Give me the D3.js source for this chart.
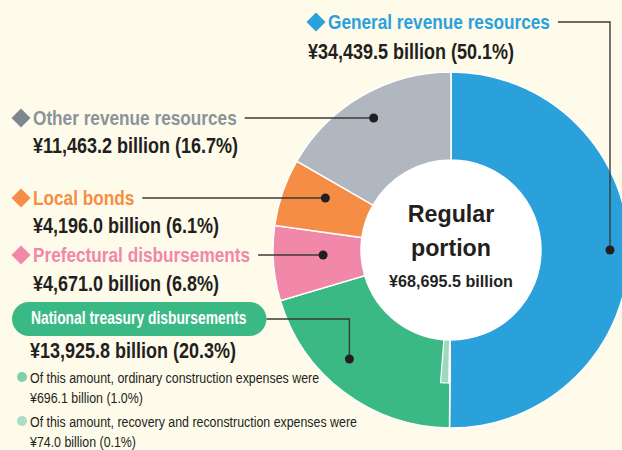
<!DOCTYPE html>
<html>
<head>
  <meta charset="utf-8">
  <script src="https://d3js.org/d3.v7.min.js"></script>
  <style>
    body { margin: 0; background: #fefbeb; }
    svg text { font-family: "Liberation Sans", Arial, sans-serif; }
  </style>
</head>
<body>
<script>
  // slice data, clockwise from 12 o'clock
  var categories = ["General revenue resources", "National treasury disbursements", "Prefectural disbursements", "Local bonds", "Other revenue resources"];
  var values = [34439.5, 13925.8, 4671.0, 4196.0, 11463.2];
  var shares = [50.1, 20.3, 6.8, 6.1, 16.7];
  var colors = ["#2ba1dc", "#3bb985", "#f187a9", "#f68d45", "#b1b7be"];
  var labelColors = ["#2ba1dc", "#ffffff", "#f187a9", "#f68d45", "#8b939b"];

  // breakdown inside the national treasury slice
  var subLabels = ["ordinary construction expenses", "recovery and reconstruction expenses"];
  var subValues = [696.1, 74.0];
  var subShares = [1.0, 0.1];
  var subColors = ["#9fd8bc", "#bde5d1"];
  var bulletColors = ["#80cfaa", "#a9ddc5"];

  var total = "68,695.5";

  var width = 622, height = 450;
  var cx = 451, cy = 250, rOuter = 178, rInner = 90, rSub = 133;

  var fmt = d3.format(",.1f");

  var svg = d3.select("body").append("svg")
      .attr("width", width)
      .attr("height", height);

  // condensed text helper (horizontal squeeze), returns rendered width
  function addText(parent, x, y, size, bold, fill, str, sq, anchor) {
    var t = parent.append("text")
      .attr("transform", "translate(" + x + "," + y + ") scale(" + sq + ",1)")
      .attr("text-anchor", anchor || "start")
      .style("font-size", size + "px")
      .style("font-weight", bold ? "bold" : "normal")
      .style("fill", fill)
      .text(str);
    return t.node().getComputedTextLength() * sq;
  }

  var pie = d3.pie().sort(null).value(function(d){ return d; });
  var arcs = pie(values);
  var arc = d3.arc().innerRadius(rInner).outerRadius(rOuter);

  var g = svg.append("g").attr("transform", "translate(" + cx + "," + cy + ")");

  g.selectAll("path.slice")
    .data(arcs)
    .enter().append("path")
    .attr("class", "slice")
    .attr("d", arc)
    .style("fill", function(d, i){ return colors[i]; })
    .style("stroke", "#fff")
    .style("stroke-width", 1.5);

  // sub-slices sit at the start of the green slice, next to the blue one
  var angle = d3.scaleLinear().domain([0, d3.sum(values)]).range([0, 2 * Math.PI]);
  var a0 = arcs[1].startAngle;
  var rec = { startAngle: a0, endAngle: a0 + angle(subValues[1]) };
  var ord = { startAngle: rec.endAngle, endAngle: rec.endAngle + angle(subValues[0]) };
  var subArcs = [{ a: ord, c: subColors[0] }, { a: rec, c: subColors[1] }];
  var subArc = d3.arc().innerRadius(rInner).outerRadius(rSub);
  g.selectAll("path.sub")
    .data(subArcs)
    .enter().append("path")
    .attr("class", "sub")
    .attr("d", function(d){ return subArc(d.a); })
    .style("fill", function(d){ return d.c; })
    .style("stroke", "#fff")
    .style("stroke-width", 1.2);

  // center hole
  g.append("circle").attr("r", rInner).style("fill", "#fff");
  addText(g, 0, -28, 24.5, true, "#231f20", "Regular", 0.95, "middle");
  addText(g, 0, 6, 24.5, true, "#231f20", "portion", 0.95, "middle");
  addText(g, 0, 37, 17, true, "#231f20", "¥" + total + " billion", 0.95, "middle");

  // callouts: label position, leader y and dot radius
  var callouts = [
    { i: 0, x: 328, y: 29, lineY: 22, dotR: 159, dotY: 0, corner: true, vx: 308, vy: 59 },
    { i: 4, x: 33, y: 125, lineY: 118, dotR: 153, vx: 33, vy: 153 },
    { i: 3, x: 33, y: 205, lineY: 198, dotR: 136, vx: 33, vy: 233 },
    { i: 2, x: 33, y: 262, lineY: 255, dotR: 128, vx: 33, vy: 291 },
    { i: 1, x: 31, y: 324, lineY: 319, dotR: 149, dotY: 109, corner: true, vx: 30, vy: 358, pill: true }
  ];

  var lab = svg.append("g");

  callouts.forEach(function(c){
    var w;
    if (c.pill) {
      var pill = lab.append("rect")
        .attr("x", 12).attr("y", 302).attr("height", 34).attr("rx", 17)
        .style("fill", colors[c.i]);
      w = addText(lab, c.x, c.y, 18, true, "#fff", categories[c.i], 0.77);
      pill.attr("width", w + 39);
    } else {
      lab.append("path")
        .attr("d", d3.symbol().type(d3.symbolSquare).size(180)())
        .attr("transform", "translate(" + (c.x - 12) + "," + (c.y - 7) + ") rotate(45)")
        .style("fill", c.i == 4 ? "#7d8790" : colors[c.i]);
      w = addText(lab, c.x, c.y, 21, true, labelColors[c.i], categories[c.i], 0.82);
    }
    addText(lab, c.vx, c.vy, 22.5, true, "#231f20",
      "¥" + fmt(values[c.i]) + " billion (" + shares[c.i].toFixed(1) + "%)", 0.8);

    var x0 = c.pill ? 12 + w + 39 : c.x + w + 8;
    var dx, dy;
    if (c.dotY !== undefined) {
      dy = c.dotY;
      dx = (c.i == 0 ? 1 : -1) * Math.sqrt(c.dotR * c.dotR - dy * dy);
    } else {
      dy = c.lineY - cy;
      dx = -Math.sqrt(c.dotR * c.dotR - dy * dy);
    }
    var px = cx + dx, py = cy + dy;
    var d = c.corner
      ? "M" + x0 + "," + c.lineY + "H" + px + "V" + py
      : "M" + x0 + "," + c.lineY + "H" + px;
    lab.append("path").attr("d", d)
      .style("fill", "none").style("stroke", "#3a3a3a").style("stroke-width", 1.4);
    lab.append("circle").attr("cx", px).attr("cy", py).attr("r", 4.5).style("fill", "#231f20");
  });

  // breakdown notes
  var notes = [
    { y: 383, vy: 403 },
    { y: 427, vy: 447 }
  ];
  notes.forEach(function(n, k){
    lab.append("circle").attr("cx", 22).attr("cy", n.y - 6).attr("r", 5).style("fill", bulletColors[k]);
    addText(lab, 30, n.y, 15.5, false, "#231f20", "Of this amount, " + subLabels[k] + " were", 0.8);
    addText(lab, 30, n.vy, 15.5, false, "#231f20",
      "¥" + fmt(subValues[k]) + " billion (" + subShares[k].toFixed(1) + "%)", 0.8);
  });
</script>
</body>
</html>
